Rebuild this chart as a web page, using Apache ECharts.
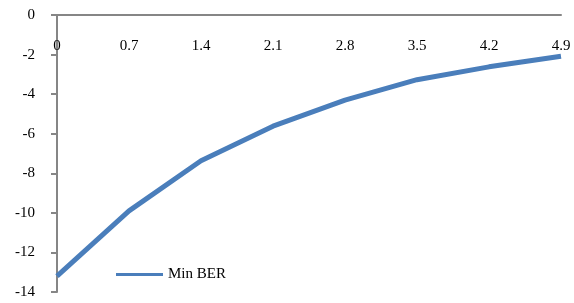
<!DOCTYPE html>
<html>
<head>
<meta charset="utf-8">
<script src="https://cdn.jsdelivr.net/npm/echarts@6/dist/echarts.min.js"></script>
<style>
  html, body { margin: 0; padding: 0; background: #fff; }
  #main { width: 574px; height: 303px; }
</style>
</head>
<body>
<div id="main"></div>
<script>
// 数据
const categories = ['0', '0.7', '1.4', '2.1', '2.8', '3.5', '4.2', '4.9'];
const minBer = [-13.2, -9.9, -7.37, -5.62, -4.3, -3.27, -2.62, -2.08];
const seriesName = 'Min BER';

const myChart = echarts.init(document.getElementById('main'));

const font = 'Liberation Serif';
const option = {
    animation: false,
    grid: { left: 57, right: 13, top: 15, bottom: 11, outerBoundsMode: 'none', containLabel: false },
    legend: {
        data: [{ name: seriesName, icon: 'rect' }],
        left: 111,
        top: 262,
        itemWidth: 47,
        itemHeight: 3,
        itemGap: 6,
        textStyle: { fontFamily: font, fontSize: 15, color: '#000' }
    },
    xAxis: {
        type: 'category',
        position: 'top',
        data: categories,
        boundaryGap: false,
        axisLine: { onZero: false, lineStyle: { color: '#868686', width: 2 } },
        axisTick: { show: false },
        axisLabel: { inside: true, margin: 24, fontFamily: font, fontSize: 15, color: '#000' },
        splitLine: { show: false }
    },
    yAxis: {
        type: 'value',
        min: -14,
        max: 0,
        interval: 2,
        axisLine: { show: true, lineStyle: { color: '#868686', width: 2 } },
        axisTick: { show: true, length: 6, lineStyle: { color: '#868686', width: 2 } },
        axisLabel: { margin: 22, fontFamily: font, fontSize: 15, color: '#000' },
        splitLine: { show: false }
    },
    series: [{
        name: seriesName,
        type: 'line',
        data: minBer,
        symbol: 'none',
        lineStyle: { color: '#4A7EBB', width: 5 },
        itemStyle: { color: '#4A7EBB' }
    }]
};
myChart.setOption(option);
</script>
</body>
</html>
